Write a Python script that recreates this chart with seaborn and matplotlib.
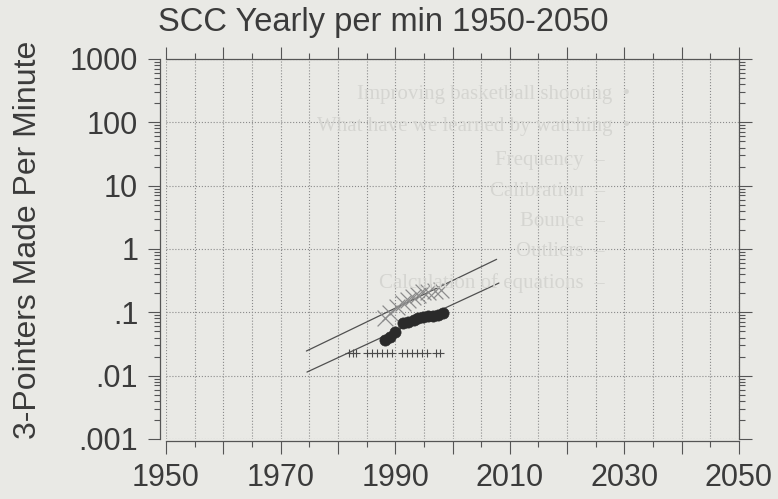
import matplotlib
matplotlib.use("Agg")
import pandas as pd
import matplotlib.pyplot as plt
import matplotlib.ticker as mticker
import seaborn as sns

# values
cross_years = [1988.2, 1989.1, 1990.3, 1991.4, 1992.2, 1993.1, 1994.0, 1994.9, 1995.7, 1996.9, 1998.0]
cross_vals = [0.081, 0.098, 0.121, 0.138, 0.156, 0.174, 0.191, 0.206, 0.213, 0.221, 0.229]

dot_years = [1988.2, 1989.1, 1990.0, 1991.4, 1992.3, 1993.2, 1994.0, 1994.9, 1995.8, 1996.6, 1997.5, 1998.4]
dot_vals = [0.037, 0.041, 0.049, 0.067, 0.071, 0.076, 0.081, 0.085, 0.089, 0.088, 0.091, 0.099]

plus_years = [1982.0, 1982.6, 1983.2, 1985.1, 1986.0, 1986.9, 1987.7, 1988.6, 1989.4,
              1991.1, 1992.0, 1992.9, 1993.8, 1994.6, 1995.6, 1997.2, 1997.9]
plus_vals = [0.023, 0.023, 0.023, 0.023, 0.023, 0.023, 0.023, 0.023, 0.023,
             0.023, 0.023, 0.023, 0.023, 0.023, 0.023, 0.023, 0.023]

upper_fit_years = [1974.5, 2007.7]
upper_fit_vals = [0.0245, 0.687]
lower_fit_years = [1974.6, 2008.1]
lower_fit_vals = [0.0114, 0.29]

x_ticks = [1950, 1960, 1970, 1980, 1990, 2000, 2010, 2020, 2030, 2040, 2050]
x_labels = ["1950", "", "1970", "", "1990", "", "2010", "", "2030", "", "2050"]
y_ticks = [0.001, 0.01, 0.1, 1, 10, 100, 1000]
y_labels = [".001", ".01", ".1", "1", "10", "100", "1000"]

# faint text showing through from the other side of the page
ghost_lines = ["Improving basketball shooting  \u2022", "What have we learned by watching  \u2022",
               "Frequency  \u2013", "Calibration  \u2013", "Bounce  \u2013", "Outliers  \u2013",
               "Calculation of equations  \u2013"]

paper = "#e9e9e5"
ink = "#3b3b3b"

sns.set_theme(style="ticks")
plt.rcParams["font.family"] = ["Liberation Sans", "DejaVu Sans"]
plt.rcParams["figure.facecolor"] = paper
plt.rcParams["axes.facecolor"] = paper

fig = plt.figure(figsize=(7.78, 4.99), dpi=100)
ax = fig.add_axes([166 / 778, 1 - 439 / 499, 573 / 778, 380 / 499])

# ghost text, drawn first so it sits under everything
ghost_x = [630, 630, 605, 605, 605, 605, 605]
ghost_y = [95, 127, 160, 191, 222, 252, 283]
for txt, gx, gy in zip(ghost_lines, ghost_x, ghost_y):
    fig.text(gx / 778, 1 - gy / 499, txt, ha="right", va="center", fontsize=15,
             family="Liberation Serif", color="#d5d5d1", zorder=0)

sns.lineplot(x=upper_fit_years, y=upper_fit_vals, ax=ax, color="#505050", lw=0.9)
sns.lineplot(x=lower_fit_years, y=lower_fit_vals, ax=ax, color="#505050", lw=0.9)

sns.scatterplot(x=cross_years, y=cross_vals, ax=ax, marker="x", s=130,
                color="#8c8c8c", linewidth=0.9, zorder=3)
sns.scatterplot(x=dot_years, y=dot_vals, ax=ax, marker="o", s=65,
                color="#2a2a2a", edgecolor="#2a2a2a", linewidth=0.5, zorder=4)
sns.scatterplot(x=plus_years, y=plus_vals, ax=ax, marker="+", s=40,
                color="#4a4a4a", linewidth=0.8, zorder=3)

ax.set_yscale("log")
ax.set_xlim(1950, 2050)
ax.set_ylim(0.001, 1000)

ax.set_xticks(x_ticks)
ax.set_xticklabels(x_labels)
ax.xaxis.set_minor_locator(mticker.MultipleLocator(5))
ax.set_yticks(y_ticks)
ax.set_yticklabels(y_labels)
ax.yaxis.set_minor_locator(mticker.LogLocator(base=10, subs=range(2, 10), numticks=20))
ax.yaxis.set_minor_formatter(mticker.NullFormatter())

ax.grid(True, which="major", axis="both", ls=":", lw=0.8, color="#8a8a8a")
ax.grid(True, which="minor", axis="x", ls=":", lw=0.8, color="#8a8a8a")

ax.tick_params(which="both", direction="out", top=True, right=True, color="#555555", width=0.8)
ax.tick_params(which="major", length=9, labelsize=22, labelcolor=ink, pad=7)
ax.tick_params(which="minor", length=4.5)

for side in ["left", "right", "top", "bottom"]:
    ax.spines[side].set_visible(True)
    ax.spines[side].set_color("#555555")
    ax.spines[side].set_linewidth(0.9)
ax.spines["left"].set_position(("outward", 4))
ax.spines["bottom"].set_position(("outward", 1.5))

ax.set_xlabel("")
ax.set_ylabel("")
fig.text(28 / 778, 1 - 240 / 499, "3-Pointers Made Per Minute", rotation=90,
         ha="center", va="center", fontsize=23, color=ink)
fig.text(0.493, 1 - 22 / 499, "SCC Yearly per min 1950-2050", ha="center", va="center",
         fontsize=23.5, color=ink)

fig.savefig("out.png", dpi=100, facecolor=paper)
